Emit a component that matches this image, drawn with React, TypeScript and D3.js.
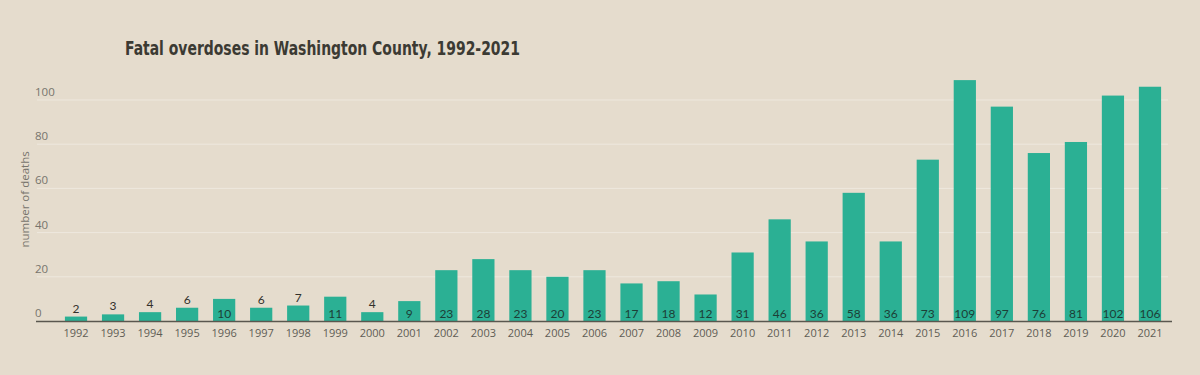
import React, { useEffect, useRef } from 'react';
import * as d3 from 'd3';

const years = [
  '1992', '1993', '1994', '1995', '1996', '1997', '1998', '1999', '2000', '2001',
  '2002', '2003', '2004', '2005', '2006', '2007', '2008', '2009', '2010', '2011',
  '2012', '2013', '2014', '2015', '2016', '2017', '2018', '2019', '2020', '2021',
];
const deaths = [
  2, 3, 4, 6, 10, 6, 7, 11, 4, 9,
  23, 28, 23, 20, 23, 17, 18, 12, 31, 46,
  36, 58, 36, 73, 109, 97, 76, 81, 102, 106,
];
const yTicks = [0, 20, 40, 60, 80, 100];
const title = 'Fatal overdoses in Washington County, 1992-2021';
const yLabel = 'number of deaths';

const W = 1200;
const H = 375;
const bg = '#e5dccd';
const barColor = '#2bb094';

const App = () => {
  const svgRef = useRef(null);

  useEffect(() => {
    const svg = d3.select(svgRef.current);
    svg.selectAll('*').remove();

    const x = d3.scaleBand().domain(years).range([57.5, 1168.5]).paddingInner(0.4).paddingOuter(0.2);
    const y = d3.scaleLinear().domain([0, 100]).range([321, 100]);

    svg.append('rect').attr('width', W).attr('height', H).attr('fill', bg);

    svg.append('text')
      .attr('x', 125).attr('y', 55)
      .attr('font-family', '"Liberation Sans Narrow", "DejaVu Sans Condensed", sans-serif')
      .attr('font-weight', 'bold')
      .attr('font-size', 20)
      .attr('fill', '#3b3a33')
      .attr('textLength', 395)
      .attr('lengthAdjust', 'spacingAndGlyphs')
      .text(title);

    // grid + y labels
    const grid = svg.append('g');
    grid.selectAll('line').data(yTicks.filter(d => d > 0)).enter().append('line')
      .attr('x1', 37).attr('x2', 1168)
      .attr('y1', d => y(d)).attr('y2', d => y(d))
      .attr('stroke', '#eee8de').attr('stroke-width', 1);
    grid.selectAll('text').data(yTicks).enter().append('text')
      .attr('x', 35).attr('y', d => y(d) - 4)
      .attr('font-family', '"Open Sans", sans-serif')
      .attr('font-size', 11.5)
      .attr('fill', '#77746c')
      .text(d => d);

    svg.append('text')
      .attr('transform', `translate(29,${y(55)}) rotate(-90)`)
      .attr('text-anchor', 'middle')
      .attr('font-family', '"Open Sans", sans-serif')
      .attr('font-size', 11.5)
      .attr('fill', '#77746c')
      .text(yLabel);

    const data = years.map((yr, i) => ({ yr, v: deaths[i] }));

    svg.append('g').selectAll('rect').data(data).enter().append('rect')
      .attr('x', d => x(d.yr)!)
      .attr('width', x.bandwidth())
      .attr('y', d => y(d.v))
      .attr('height', d => y(0) - y(d.v))
      .attr('fill', barColor);

    // axis line
    svg.append('line')
      .attr('x1', 36).attr('x2', 1172)
      .attr('y1', y(0) + 0.5).attr('y2', y(0) + 0.5)
      .attr('stroke', '#5a574f').attr('stroke-width', 1.5);

    // year labels
    svg.append('g').selectAll('text').data(years).enter().append('text')
      .attr('x', d => x(d)! + x.bandwidth() / 2)
      .attr('y', 337)
      .attr('text-anchor', 'middle')
      .attr('font-family', '"Open Sans", sans-serif')
      .attr('font-size', 11)
      .attr('fill', '#5f5c55')
      .text(d => d);

    // value labels
    svg.append('g').selectAll('text').data(data).enter().append('text')
      .attr('x', d => x(d.yr)! + x.bandwidth() / 2)
      .attr('y', d => (d.v >= 9 ? y(0) - 3 : y(d.v) - 4))
      .attr('text-anchor', 'middle')
      .attr('font-family', 'Lato, sans-serif')
      .attr('font-size', 12)
      .attr('fill', d => (d.v >= 9 ? '#1c3f37' : '#33312c'))
      .text(d => d.v);
  }, []);

  return (
    <svg ref={svgRef} width={W} height={H} style={{ position: 'absolute', left: 0, top: 0, display: 'block' }} />
  );
};

export default App;
